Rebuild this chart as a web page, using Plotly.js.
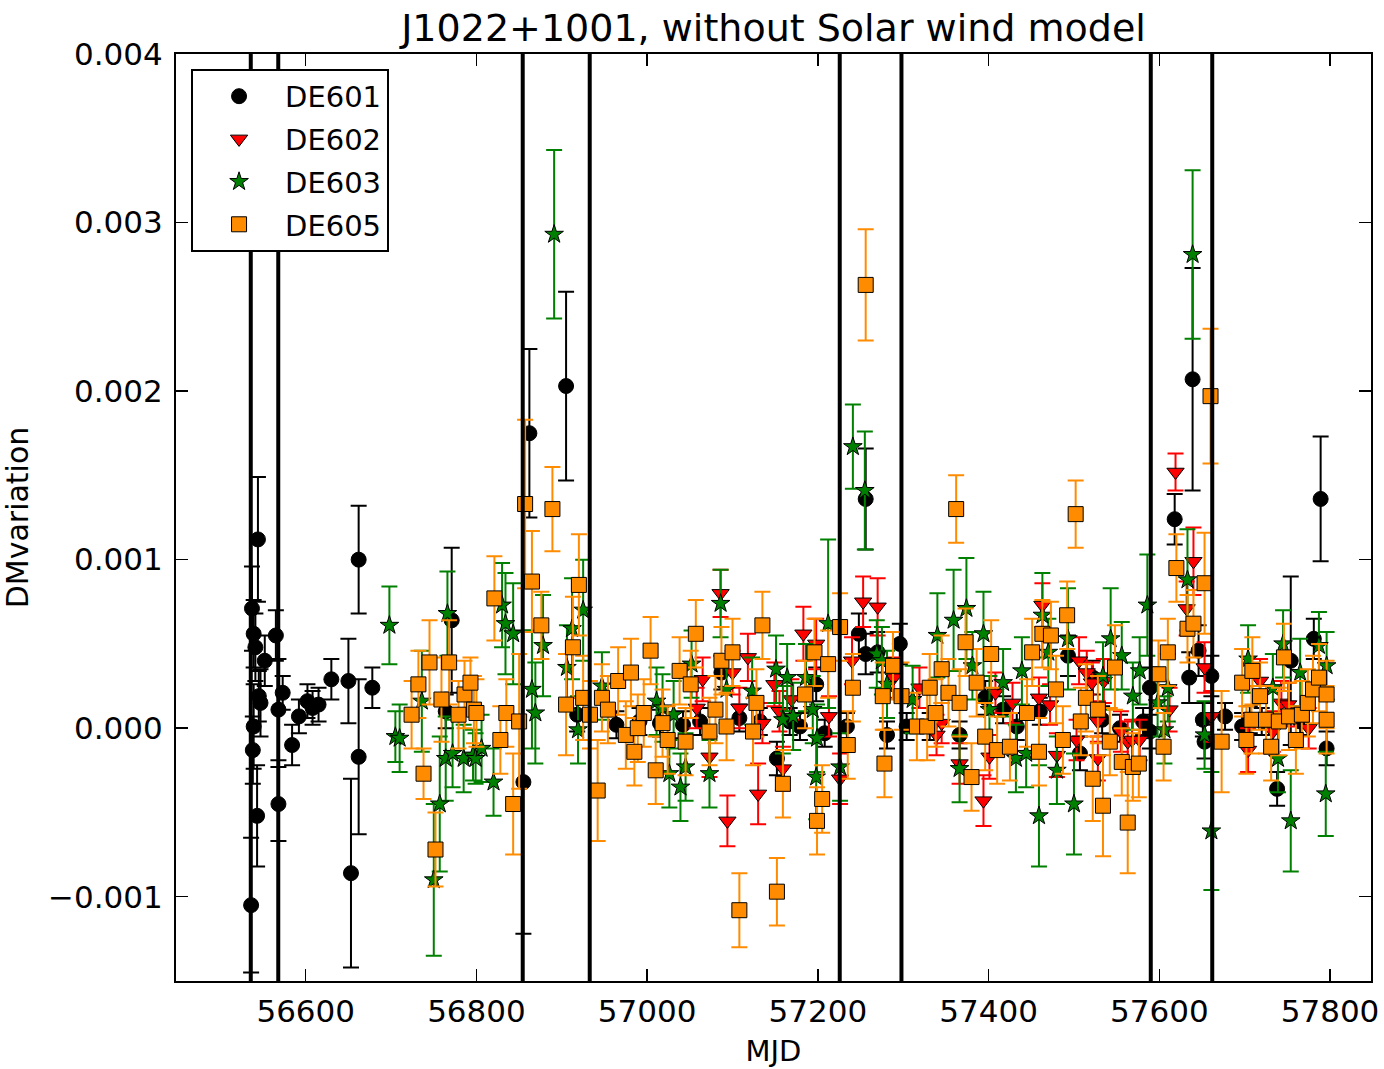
<!DOCTYPE html>
<html>
<head>
<meta charset="utf-8">
<script src="https://cdn.plot.ly/plotly-3.0.1.min.js"></script>
<style>html,body{margin:0;padding:0;background:#fff}#chart{width:1384px;height:1069px}</style>
</head>
<body>
<div id="chart"></div>
<script>
const seriesNames = ["DE601", "DE602", "DE603", "DE605"];
const eventMJD = [56535.6, 56567.8, 56854.2, 56932.7, 57225.6, 57297.9, 57590, 57662];

const mjd601 = [56536,56537,56539,56541,56538,56539,56543,56544,56547,56545,
  56552,56565,56568,56568,56573,56584,56592,56602,56608,56615,
  56630,56650,56653,56662,56662,56678,56764,56771,56855,56862,
  56905,56918,56964,56991,57015,57042,57062,57087,57108,57132,
  57152,57167,57179,57198,57208,57234,57248,57256,57256,57270,
  57281,57296,57304,57331,57366,57396,57417,57433,57460,57493,
  57507,57522,57533,57554,57581,57589,57589,57618,57635,57639,
  57646,57651,57653,57661,57677,57697,57706,57720,57738,57754,
  57765,57781,57789,57796];
const dm601 = [-0.00105,0.00071,0.00056,0.00048,-0.00013,0.00001,-0.00052,0.00112,0.00015,0.00019,
  0.00040,0.00055,0.00011,-0.00045,0.00021,-0.00010,0.00007,0.00016,0.00012,0.00014,
  0.00029,0.00028,-0.00086,0.00100,-0.00017,0.00024,0.00010,0.00064,-0.00032,0.00175,
  0.00203,0.00008,0.00002,0.00004,0.00003,0.00002,0.00004,0.00033,0.00006,0.00004,
  -0.00018,0.00004,0.00001,0.00026,-0.00003,0.00001,0.00056,0.00136,0.00044,0.00045,
  -0.00004,0.00050,0.00001,0.00001,-0.00004,0.00018,0.00011,0.00001,0.00010,0.00043,
  -0.00015,0.00030,0.00005,0.00000,0.00004,0.00024,-0.00002,0.00124,0.00030,0.00207,
  0.00046,0.00005,-0.00008,0.00031,0.00007,0.00001,0.00005,0.00004,-0.00036,0.00040,
  0.00004,0.00053,0.00136,-0.00012];
const err601 = [0.00040,0.00025,0.00020,0.00020,0.00020,0.00025,0.00030,0.00037,0.00020,0.00015,
  0.00015,0.00015,0.00030,0.00022,0.00010,0.00012,0.00010,0.00010,0.00010,0.00010,
  0.00012,0.00025,0.00056,0.00032,0.00046,0.00012,0.00010,0.00043,0.00090,0.00050,
  0.00056,0.00010,0.00008,0.00008,0.00008,0.00008,0.00008,0.00010,0.00008,0.00008,
  0.00010,0.00008,0.00008,0.00010,0.00008,0.00008,0.00012,0.00030,0.00012,0.00012,
  0.00008,0.00012,0.00008,0.00008,0.00008,0.00010,0.00008,0.00008,0.00008,0.00012,
  0.00010,0.00010,0.00008,0.00008,0.00008,0.00012,0.00010,0.00015,0.00015,0.00066,
  0.00015,0.00010,0.00010,0.00012,0.00008,0.00008,0.00008,0.00008,0.00010,0.00050,
  0.00008,0.00012,0.00037,0.00010];

const mjd602 = [57058,57065,57073,57086,57094,57100,57108,57118,57130,57135,
  57149,57155,57159,57169,57183,57198,57213,57226,57240,57253,
  57270,57289,57319,57339,57345,57366,57394,57401,57408,57428,
  57459,57463,57472,57480,57503,57506,57515,57521,57528,57528,
  57535,57555,57563,57568,57577,57612,57619,57632,57640,57653,
  57661,57704,57718,57733,57743,57751,57775];
const dm602 = [0.00012,0.00029,-0.00017,0.00080,-0.00055,0.00033,0.00012,0.00042,-0.00039,0.00003,
  0.00026,0.00010,-0.00024,0.00017,0.00056,0.00050,0.00007,-0.00030,0.00040,0.00075,
  0.00072,0.00030,0.00024,-0.00004,0.00003,-0.00021,-0.00043,-0.00017,0.00021,0.00015,
  0.00018,0.00073,0.00014,-0.00016,-0.00007,0.00040,0.00033,0.00027,0.00004,-0.00018,
  0.00028,-0.00002,-0.00008,-0.00007,-0.00007,0.00011,0.00152,0.00071,0.00099,0.00036,
  0.00007,-0.00013,0.00028,-0.00002,0.00015,0.00014,0.00000];
const err602 = [0.00012,0.00013,0.00012,0.00014,0.00015,0.00013,0.00012,0.00014,0.00018,0.00012,
  0.00013,0.00012,0.00013,0.00012,0.00016,0.00015,0.00012,0.00015,0.00014,0.00015,
  0.00017,0.00012,0.00012,0.00012,0.00012,0.00012,0.00015,0.00013,0.00012,0.00012,
  0.00012,0.00013,0.00012,0.00013,0.00012,0.00014,0.00013,0.00012,0.00012,0.00013,
  0.00013,0.00012,0.00012,0.00012,0.00012,0.00013,0.00011,0.00016,0.00020,0.00015,
  0.00015,0.00013,0.00013,0.00012,0.00013,0.00013,0.00012];

const mjd603 = [56698,56705,56710,56736,56750,56757,56764,56766,56772,56785,
  56796,56799,56806,56820,56830,56834,56843,56865,56869,56878,
  56891,56906,56912,56919,56925,56947,57011,57018,57026,57031,
  57039,57045,57052,57073,57086,57093,57123,57151,57159,57164,
  57171,57186,57194,57198,57199,57212,57226,57241,57255,57269,
  57275,57281,57311,57340,57359,57366,57374,57381,57394,57401,
  57417,57432,57439,57444,57459,57463,57470,57480,57493,57500,
  57534,57543,57556,57569,57577,57586,57598,57606,57610,57633,
  57639,57653,57661,57704,57733,57739,57745,57754,57765,57787,
  57795,57796];
const dm603 = [0.00061,-0.00005,-0.00006,0.00016,-0.00090,-0.00045,-0.00018,0.00068,-0.00015,-0.00018,
  -0.00016,-0.00018,-0.00012,-0.00032,0.00073,0.00062,0.00056,0.00023,0.00009,0.00049,
  0.00293,0.00036,0.00059,-0.00001,0.00070,0.00025,0.00016,0.00012,-0.00027,0.00008,
  -0.00035,-0.00023,0.00038,-0.00027,0.00074,0.00023,0.00022,0.00035,0.00005,0.00030,
  0.00007,0.00030,0.00011,-0.00029,-0.00006,0.00062,-0.00023,0.00167,0.00141,0.00044,
  0.00040,0.00026,0.00017,0.00055,0.00064,-0.00024,0.00071,0.00037,0.00056,0.00011,
  0.00027,-0.00018,0.00034,-0.00015,-0.00052,0.00067,0.00045,-0.00025,0.00053,-0.00045,
  0.00031,0.00053,0.00043,0.00019,0.00034,0.00073,0.00015,-0.00001,0.00024,0.00088,
  0.00281,-0.00004,-0.00061,0.00041,0.00024,-0.00018,0.00050,-0.00055,0.00033,0.00049,
  -0.00039,0.00037];
const err603 = [0.00023,0.00015,0.00020,0.00030,0.00045,0.00040,0.00025,0.00025,0.00020,0.00020,
  0.00015,0.00015,0.00020,0.00020,0.00025,0.00030,0.00030,0.00035,0.00030,0.00030,
  0.00050,0.00025,0.00030,0.00020,0.00030,0.00020,0.00020,0.00020,0.00020,0.00020,
  0.00020,0.00020,0.00020,0.00020,0.00020,0.00020,0.00020,0.00020,0.00020,0.00020,
  0.00020,0.00020,0.00020,0.00025,0.00020,0.00050,0.00020,0.00025,0.00035,0.00020,
  0.00020,0.00020,0.00020,0.00025,0.00030,0.00020,0.00030,0.00020,0.00025,0.00020,
  0.00020,0.00020,0.00020,0.00020,0.00030,0.00025,0.00020,0.00020,0.00030,0.00030,
  0.00020,0.00030,0.00020,0.00020,0.00020,0.00030,0.00020,0.00020,0.00020,0.00030,
  0.00050,0.00020,0.00035,0.00020,0.00020,0.00020,0.00020,0.00030,0.00020,0.00020,
  0.00025,0.00020];

const mjd605 = [56724,56732,56738,56745,56752,56759,56768,56779,56786,56793,
  56797,56800,56821,56828,56835,56843,56850,56857,56865,56876,
  56889,56905,56913,56920,56925,56933,56942,56947,56954,56966,
  56975,56981,56985,56989,56996,57004,57010,57018,57024,57038,
  57045,57051,57057,57073,57080,57087,57093,57100,57108,57124,
  57128,57135,57152,57159,57185,57196,57199,57205,57212,57226,
  57235,57241,57256,57276,57278,57288,57298,57316,57328,57331,
  57338,57345,57353,57362,57366,57373,57380,57386,57396,57403,
  57410,57425,57445,57451,57459,57463,57473,57479,57487,57492,
  57502,57508,57514,57522,57528,57534,57542,57548,57556,57563,
  57569,57576,57599,57605,57610,57620,57633,57640,57653,57660,
  57673,57697,57702,57708,57709,57718,57725,57731,57740,57746,
  57752,57760,57767,57774,57780,57787,57796,57796];
const dm605 = [0.00008,0.00026,-0.00027,0.00039,-0.00072,0.00017,0.00039,0.00008,0.00020,0.00027,
  0.00011,0.00009,0.00077,-0.00007,0.00009,-0.00045,0.00004,0.00133,0.00087,0.00061,
  0.00130,0.00014,0.00048,0.00085,0.00018,0.00008,-0.00037,0.00018,0.00011,0.00028,
  -0.00004,0.00033,-0.00014,0.00000,0.00009,0.00046,-0.00025,0.00003,-0.00007,0.00034,
  -0.00008,0.00026,0.00056,-0.00002,0.00011,0.00040,0.00001,0.00045,-0.00108,-0.00002,
  0.00015,0.00061,-0.00097,-0.00033,0.00020,0.00045,-0.00055,-0.00042,0.00038,0.00060,
  -0.00010,0.00024,0.00263,0.00019,-0.00021,0.00037,0.00019,0.00001,0.00001,0.00024,
  0.00009,0.00035,0.00021,0.00130,0.00015,0.00051,-0.00029,0.00027,-0.00005,0.00044,
  -0.00013,-0.00011,0.00009,0.00045,-0.00014,0.00056,0.00055,0.00023,-0.00007,0.00067,
  0.00127,0.00004,0.00018,-0.00030,0.00011,-0.00046,-0.00008,0.00036,-0.00020,-0.00056,
  -0.00023,-0.00021,0.00032,-0.00011,0.00045,0.00095,0.00059,0.00062,0.00086,0.00197,
  -0.00008,0.00027,-0.00007,0.00005,0.00034,0.00019,0.00005,-0.00011,0.00004,0.00042,
  0.00007,-0.00007,0.00008,0.00015,0.00023,0.00030,0.00020,0.00005];
const err605 = [0.00020,0.00020,0.00015,0.00025,0.00022,0.00025,0.00025,0.00020,0.00020,0.00015,
  0.00020,0.00020,0.00025,0.00020,0.00020,0.00030,0.00040,0.00050,0.00030,0.00020,
  0.00025,0.00030,0.00030,0.00030,0.00025,0.00020,0.00030,0.00020,0.00020,0.00020,
  0.00020,0.00020,0.00020,0.00020,0.00020,0.00020,0.00020,0.00020,0.00020,0.00020,
  0.00020,0.00020,0.00020,0.00020,0.00020,0.00020,0.00020,0.00020,0.00022,0.00020,
  0.00020,0.00020,0.00020,0.00020,0.00020,0.00020,0.00020,0.00020,0.00020,0.00020,
  0.00020,0.00020,0.00033,0.00020,0.00020,0.00020,0.00020,0.00020,0.00020,0.00020,
  0.00020,0.00020,0.00020,0.00020,0.00020,0.00020,0.00020,0.00020,0.00020,0.00020,
  0.00020,0.00020,0.00020,0.00020,0.00020,0.00020,0.00020,0.00020,0.00020,0.00020,
  0.00020,0.00020,0.00020,0.00025,0.00020,0.00030,0.00020,0.00025,0.00020,0.00030,
  0.00020,0.00020,0.00020,0.00020,0.00020,0.00020,0.00020,0.00020,0.00030,0.00040,
  0.00030,0.00020,0.00020,0.00020,0.00020,0.00020,0.00020,0.00020,0.00020,0.00020,
  0.00020,0.00020,0.00020,0.00020,0.00020,0.00020,0.00020,0.00020];

const FONT = "DejaVu Sans, Liberation Sans, sans-serif";

function mk(name, x, y, e, sym, fill, ecol, size) {
  return {
    type: "scatter", mode: "markers", name: name, x: x, y: y,
    legendgroup: name,
    error_y: {type: "data", array: e, visible: true, color: ecol, thickness: 2, width: 8},
    marker: {symbol: sym, color: fill, size: size, line: {color: "#000", width: 1}},
    hoverinfo: "x+y"
  };
}

const traces = [
  mk(seriesNames[0], mjd601, dm601, err601, "circle", "#000000", "#000000", 15),
  mk(seriesNames[1], mjd602, dm602, err602, "triangle-down", "#ff0000", "#ff0000", 15),
  mk(seriesNames[2], mjd603, dm603, err603, "star", "#008000", "#008000", 14),
  mk(seriesNames[3], mjd605, dm605, err605, "square", "#ff8c00", "#ff8c00", 15)
];

const shapes = eventMJD.map(m => ({
  type: "line", xref: "x", yref: "paper", x0: m, x1: m, y0: 0, y1: 1,
  line: {color: "#000", width: 4}, layer: "above"
}));

const layout = {
  width: 1384, height: 1069,
  margin: {l: 176, r: 13, t: 54, b: 88},
  paper_bgcolor: "#fff", plot_bgcolor: "#fff",
  font: {family: FONT, color: "#000", size: 29},
  title: {text: "J1022+1001, without Solar wind model", font: {family: FONT, size: 38, color: "#000"},
          x: 0.5, xref: "paper", y: 0.974, yref: "container", yanchor: "middle"},
  showlegend: true,
  legend: {x: 0.0126, y: 0.984, xanchor: "left", yanchor: "top", bgcolor: "#fff",
           bordercolor: "#000", borderwidth: 2, font: {family: FONT, size: 29},
           tracegroupgap: 2, itemsizing: "trace", itemwidth: 82},
  xaxis: {
    range: [56448, 57848], tick0: 56600, dtick: 200, tickformat: "d", ticks: "inside", ticklen: 12, tickwidth: 1.5,
    tickcolor: "#000", showline: true, linecolor: "#000", linewidth: 2, mirror: "ticks",
    showgrid: false, zeroline: false, tickfont: {family: FONT, size: 31}, ticklabelstandoff: 2,
    title: {text: "MJD", font: {family: FONT, size: 29}, standoff: 12}
  },
  yaxis: {
    range: [-0.0015, 0.004], tick0: 0, dtick: 0.001, tickformat: ".3f", ticks: "inside", ticklen: 12, tickwidth: 1.5,
    tickcolor: "#000", showline: true, linecolor: "#000", linewidth: 2, mirror: "ticks",
    showgrid: false, zeroline: false, tickfont: {family: FONT, size: 31}, ticklabelstandoff: 5,
    title: {text: "DMvariation", font: {family: FONT, size: 30}, standoff: 12}
  },
  shapes: shapes
};

Plotly.newPlot("chart", traces, layout, {displayModeBar: false, staticPlot: true});
</script>
</body>
</html>
